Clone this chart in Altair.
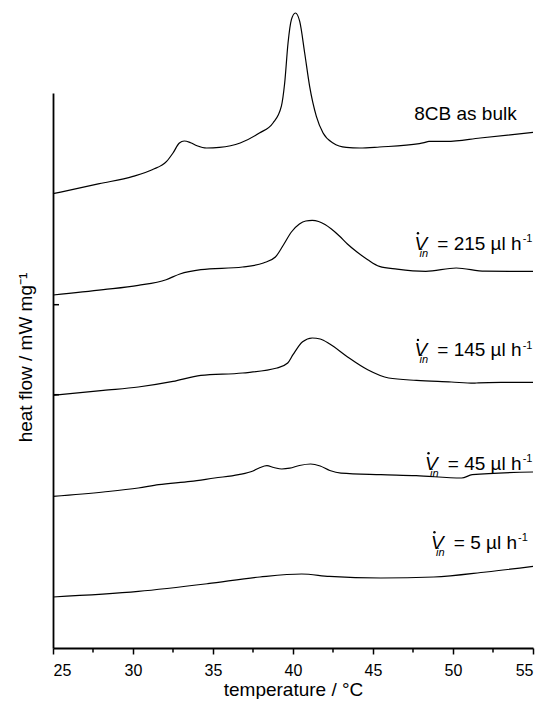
import altair as alt
import pandas as pd

FONT = "Liberation Sans"
FS_LABEL = 19

# ---- data (temperature in °C, heat flow in arbitrary offset units) ----
bulk_T = [25.0, 27.9, 30.0, 31.2, 32.1, 32.5, 32.9, 33.2, 33.6, 34.0, 34.6, 35.4, 36.7, 37.9,
          38.75, 39.27, 39.48, 39.69, 39.9, 40.15, 40.42, 40.73, 41.04, 41.46, 41.88, 42.5,
          43.33, 44.17, 45.4, 47.9, 48.2, 48.5, 49.6, 51.7, 55.0]
bulk_hf = [4.543, 4.643, 4.716, 4.783, 4.866, 4.95, 5.05, 5.07, 5.053, 5.023, 5.0, 5.006, 5.05, 5.15,
           5.25, 5.416, 5.65, 6.05, 6.283, 6.35, 6.266, 5.95, 5.616, 5.316, 5.15, 5.05,
           5.006, 5.0, 5.01, 5.043, 5.053, 5.066, 5.066, 5.1, 5.156]

v215_T = [25.0, 28.15, 30.33, 32.07, 32.93, 34.24, 36.85, 38.15, 38.9, 39.4, 39.9, 40.4, 40.8,
          41.2, 41.6, 42.0, 42.4, 42.9, 43.4, 44.0, 44.67, 45.4, 46.5, 48.3, 50.2, 52.0, 55.0]
v215_hf = [3.53, 3.583, 3.626, 3.683, 3.74, 3.783, 3.81, 3.85, 3.91, 4.03, 4.16, 4.24, 4.27,
           4.276, 4.265, 4.235, 4.19, 4.12, 4.04, 3.96, 3.883, 3.816, 3.788, 3.766, 3.8, 3.768, 3.766]

v145_T = [25.0, 28.15, 30.33, 32.5, 34.24, 36.85, 39.0, 39.67, 40.0, 40.6, 41.2, 41.7, 42.3,
          43.37, 44.67, 45.98, 47.72, 49.89, 51.3, 51.6, 53.0, 55.0]
v145_hf = [2.526, 2.576, 2.61, 2.666, 2.726, 2.75, 2.8, 2.85, 2.933, 3.063, 3.1, 3.09, 3.04,
           2.916, 2.783, 2.7, 2.676, 2.66, 2.648, 2.652, 2.656, 2.657]

v45_T = [25.0, 28.15, 30.33, 31.6, 33.6, 35.1, 36.6, 37.5, 37.95, 38.37, 38.8, 39.3, 39.8, 40.4,
         41.1, 41.7, 42.3, 43.0, 45.5, 47.7, 50.54, 51.2, 55.0]
v45_hf = [1.516, 1.56, 1.6, 1.633, 1.666, 1.7, 1.733, 1.77, 1.805, 1.823, 1.805, 1.79, 1.798, 1.825,
          1.84, 1.82, 1.775, 1.748, 1.733, 1.723, 1.7, 1.733, 1.76]

v5_T = [25.0, 30.33, 34.67, 37.93, 40.54, 42.28, 45.5, 48.8, 52.07, 55.0]
v5_hf = [0.51, 0.566, 0.643, 0.71, 0.74, 0.716, 0.7, 0.71, 0.76, 0.816]

series = [("bulk", bulk_T, bulk_hf), ("215", v215_T, v215_hf), ("145", v145_T, v145_hf),
          ("45", v45_T, v45_hf), ("5", v5_T, v5_hf)]

# labels: rate text, anchor temperature (right edge of "h"), baseline heat flow
rates = ["215", "145", "45", "5"]
rate_T = [54.29, 54.29, 54.29, 54.0]
rate_hf = [3.983, 2.916, 1.783, 0.993]
bulk_label = "8CB as bulk"
bulk_label_T = 53.98
bulk_label_hf = 5.276

major_ticks = [25, 30, 35, 40, 45, 50, 55]
minor_ticks = [27.5, 32.5, 37.5, 42.5, 47.5, 52.5]
y_inner_ticks = [2.533, 3.433]

# ---- build ----
rows = []
for name, ts, hs in series:
    for t, h in zip(ts, hs):
        rows.append({"series": name, "T": t, "hf": h})
curves = pd.DataFrame(rows)

xscale = alt.Scale(domain=[25, 55], nice=False, zero=False)
yscale = alt.Scale(domain=[0, 5.55], nice=False, zero=False)

x_axis = alt.Axis(
    values=major_ticks, format="d", tickSize=6,
    labelFont=FONT, labelFontSize=16, labelColor="black", labelPadding=8,
    tickColor="black", tickWidth=1.5, domainColor="black", domainWidth=1.8,
    grid=False, title="temperature / °C", titleFont=FONT, titleFontSize=19,
    titleFontWeight="normal", titleColor="black", titleBaseline="alphabetic", titleY=47,
)
y_axis = alt.Axis(
    ticks=False, labels=False, grid=False, domainColor="black", domainWidth=1.8,
    title="heat flow / mW mg⁻¹", titleFont=FONT, titleFontSize=19, titleFontWeight="normal",
    titleColor="black", titleAngle=270, titleAlign="center", titleBaseline="middle",
    titleX=-28, titleY=264,
)

lines = alt.Chart(curves).mark_line(color="black", strokeWidth=1.2, interpolate="monotone").encode(
    x=alt.X("T:Q", scale=xscale, axis=x_axis),
    y=alt.Y("hf:Q", scale=yscale, axis=y_axis),
    detail="series:N",
    order="T:Q",
)

minor = alt.Chart(pd.DataFrame({"T": minor_ticks})).mark_rule(color="black", strokeWidth=1.5).encode(
    x="T:Q", y=alt.value(555), y2=alt.value(559.5)
)

inner = alt.Chart(pd.DataFrame({"hf": y_inner_ticks})).mark_rule(color="black", strokeWidth=1.5).encode(
    y="hf:Q", x=alt.value(0), x2=alt.value(6)
)

layers = [lines, minor, inner]

bulk_df = pd.DataFrame({"T": [bulk_label_T], "hf": [bulk_label_hf], "txt": [bulk_label]})
layers.append(alt.Chart(bulk_df).mark_text(align="right", baseline="alphabetic", font=FONT,
                                           fontSize=FS_LABEL, color="black").encode(
    x="T:Q", y="hf:Q", text="txt:N"))

adv = {"=": 584, " ": 278, "µ": 576, "l": 222, "h": 556}
for r, t, h in zip(rates, rate_T, rate_hf):
    main = f"= {r} µl h"
    w = (sum(adv.get(c, 556) for c in main) / 1000 + 0.28) * FS_LABEL
    off = -(w + 17.5)
    df = pd.DataFrame({"T": [t], "hf": [h], "main": [main], "sup": ["-1"], "v": ["V"], "sub": ["in"]})
    c = alt.Chart(df)
    layers.append(c.mark_text(align="right", baseline="alphabetic", font=FONT, fontSize=FS_LABEL,
                              color="black").encode(x="T:Q", y="hf:Q", text="main:N"))
    layers.append(c.mark_text(align="left", baseline="alphabetic", font=FONT, fontSize=11,
                              color="black", dx=1, dy=-7.5).encode(x="T:Q", y="hf:Q", text="sup:N"))
    layers.append(c.mark_text(align="left", baseline="alphabetic", font=FONT, fontSize=FS_LABEL,
                              fontStyle="italic", color="black", dx=off).encode(
        x="T:Q", y="hf:Q", text="v:N"))
    layers.append(c.mark_text(align="left", baseline="alphabetic", font=FONT, fontSize=11,
                              fontStyle="italic", color="black", dx=off + 5, dy=7).encode(
        x="T:Q", y="hf:Q", text="sub:N"))
    layers.append(c.mark_circle(size=6, color="black", opacity=1, xOffset=off + 3.5, yOffset=-16.5).encode(
        x="T:Q", y="hf:Q"))

chart = alt.layer(*layers).properties(
    width=480, height=555,
    autosize=alt.AutoSizeParams(type="none"),
    padding={"left": 45, "top": 85, "right": 3, "bottom": 51},
    background="white",
).configure_view(stroke=None)

chart.save("out.html", embed_options={"renderer": "svg", "actions": False})
